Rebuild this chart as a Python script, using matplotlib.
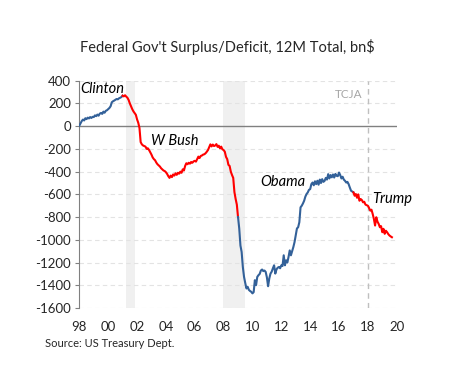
import matplotlib
matplotlib.use("Agg")
import matplotlib.pyplot as plt
import numpy as np

plt.rcParams['font.family'] = ['Lato', 'DejaVu Sans']

# Monthly 12-month rolling surplus(+)/deficit(-), bn$, Jan 1998 .. Sep 2019
values_by_year = {
    1998: [5, 25, 45, 58, 50, 70, 62, 75, 68, 80, 72, 82],
    1999: [80, 95, 88, 102, 92, 110, 116, 108, 128, 118, 135, 140],
    2000: [150, 160, 175, 210, 219, 225, 232, 239, 236, 245, 250, 256],
    2001: [268, 262, 272, 260, 250, 230, 200, 175, 150, 130, 115, 100],
    2002: [60, 30, -15, -140, -160, -170, -175, -180, -200, -195, -210, -230],
    2003: [-250, -275, -290, -300, -320, -335, -345, -355, -370, -380, -390, -395],
    2004: [-405, -420, -440, -455, -435, -448, -425, -435, -415, -428, -410, -418],
    2005: [-400, -410, -380, -390, -350, -326, -335, -322, -330, -315, -322, -310],
    2006: [-305, -312, -290, -268, -280, -262, -258, -250, -247, -238, -225, -210],
    2007: [-185, -160, -178, -162, -175, -170, -158, -182, -172, -195, -180, -204],
    2008: [-210, -225, -270, -290, -340, -350, -400, -430, -455, -580, -640, -690],
    2009: [-800, -900, -1050, -1107, -1239, -1326, -1380, -1428, -1413, -1440, -1450, -1457],
    2010: [-1471, -1460, -1355, -1399, -1326, -1311, -1300, -1270, -1261, -1275, -1270, -1282],
    2011: [-1330, -1408, -1340, -1297, -1280, -1250, -1224, -1297, -1260, -1245, -1239, -1250],
    2012: [-1224, -1230, -1136, -1224, -1180, -1200, -1151, -1093, -1136, -1100, -1064, -1020],
    2013: [-960, -900, -889, -845, -714, -700, -680, -656, -620, -597, -583, -560],
    2014: [-554, -510, -496, -520, -485, -510, -480, -515, -470, -500, -466, -490],
    2015: [-481, -455, -470, -422, -460, -430, -450, -425, -452, -420, -437, -440],
    2016: [-408, -430, -460, -445, -470, -481, -496, -490, -510, -540, -568, -575],
    2017: [-583, -612, -597, -630, -600, -656, -641, -650, -670, -665, -690, -695],
    2018: [-700, -720, -743, -735, -772, -816, -874, -801, -840, -860, -889, -880],
    2019: [-933, -903, -947, -920, -933, -950, -962, -970, -977],
}

# Presidential segments (start year, end year) and colours
segments = [(1998.0, 2001.0, 'blue'), (2001.0, 2009.0, 'red'),
            (2009.0, 2017.0, 'blue'), (2017.0, 2020.0, 'red')]
recessions = [(2001.25, 2001.87), (2007.95, 2009.48)]
president_labels = ["Clinton", "W Bush", "Obama", "Trump"]
label_pos = [(1998.05, 330), (2002.97, -131), (2010.52, -495), (2018.3, -641)]
yticks = list(range(-1600, 401, 200))
xtick_years = list(range(1998, 2021, 2))
xtick_labels = [f"{y % 100:02d}" for y in xtick_years]

vals = np.concatenate([values_by_year[y] for y in sorted(values_by_year)])
x = 1998 + np.arange(len(vals)) / 12.0

colors = {'blue': '#336199', 'red': '#FF0000'}

fig = plt.figure(figsize=(4.56, 3.87), dpi=100)
ax = fig.add_axes([0.174, 0.204, 0.696, 0.5875])

for a, b in recessions:
    ax.axvspan(a, b, color='#F0F0F0', lw=0, zorder=0)

for yt in yticks:
    if yt != 0:
        ax.axhline(yt, color='#E3E3E3', lw=0.8, ls=(0, (4, 3)), zorder=1)
ax.axhline(0, color='#808080', lw=1.0, zorder=2)

ax.axvline(2018.0, color='#BFBFBF', lw=1.0, ls=(0, (4, 3)), zorder=2)
ax.text(2017.64, 277, "TCJA", color='#A6A6A6', fontsize=8.5, ha='right', va='center')

for a, b, c in segments:
    m = (x >= a - 1e-9) & (x <= b + 1e-9)
    ax.plot(x[m], vals[m], color=colors[c], lw=1.5, zorder=3)

for lab, (lx, ly) in zip(president_labels, label_pos):
    ax.text(lx, ly, lab, fontsize=10.5, style='italic', ha='left', va='center', color='black')

ax.set_xlim(1998, 2020)
ax.set_ylim(-1600, 400)
ax.set_yticks(yticks)
ax.set_yticklabels([str(v) for v in yticks], fontsize=9.5, color='#262626')
ax.set_xticks(xtick_years)
ax.set_xticklabels(xtick_labels, fontsize=9.5, color='#262626')
ax.tick_params(axis='x', length=0, pad=9)
ax.tick_params(axis='y', length=3, color='#808080', direction='out', pad=3)
for s in ['top', 'right', 'bottom']:
    ax.spines[s].set_visible(False)
ax.spines['left'].set_color('#808080')

fig.text(0.498, 0.878, "Federal Gov't Surplus/Deficit, 12M Total, bn$", fontsize=10.5,
         ha='center', va='center', color='#262626')
fig.text(0.098, 0.113, "Source: US Treasury Dept.", fontsize=8, ha='left', va='center',
         color='#262626')

fig.savefig("out.png", dpi=100)
